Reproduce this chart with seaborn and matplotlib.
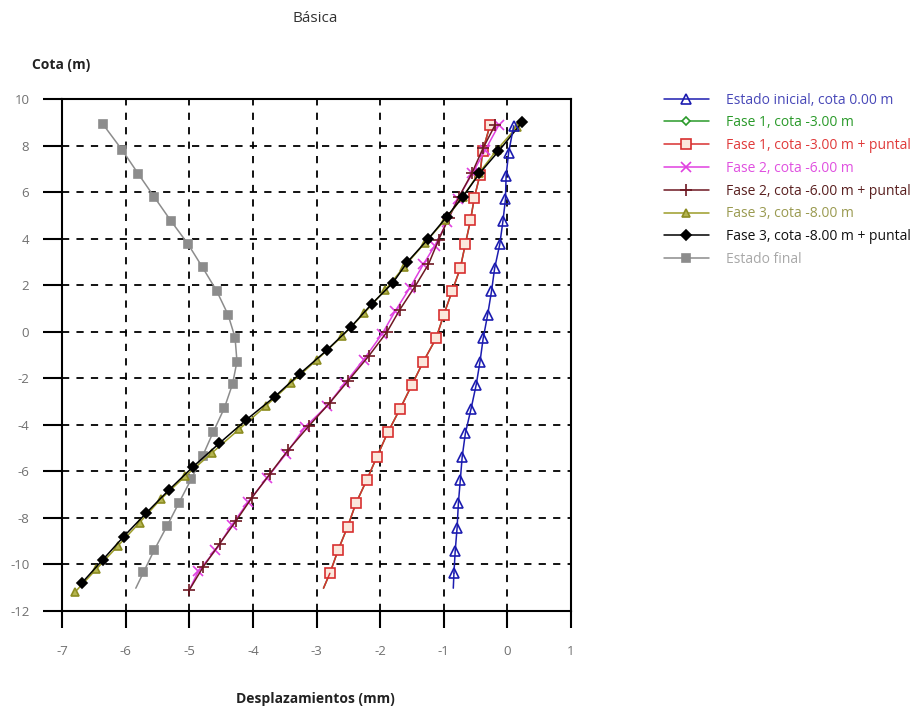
import matplotlib
matplotlib.use("Agg")
import matplotlib.pyplot as plt
import seaborn as sns
import pandas as pd

# ---------------- data ----------------
labels = ["Estado inicial, cota 0.00 m", "Fase 1, cota -3.00 m",
          "Fase 1, cota -3.00 m + puntal", "Fase 2, cota -6.00 m",
          "Fase 2, cota -6.00 m + puntal", "Fase 3, cota -8.00 m",
          "Fase 3, cota -8.00 m + puntal", "Estado final"]

y_ini = [8.85, 7.7, 6.7, 5.7, 4.75, 3.75, 2.73, 1.73, 0.73, -0.28, -1.28, -2.28,
         -3.3, -4.36, -5.37, -6.37, -7.37, -8.42, -9.42, -10.38, -11.02]
x_ini = [0.10, 0.02, -0.02, -0.03, -0.07, -0.12, -0.20, -0.25, -0.31, -0.38, -0.43,
         -0.49, -0.57, -0.66, -0.71, -0.74, -0.77, -0.79, -0.82, -0.84, -0.85]

y_f1 = [8.9, 7.75, 6.75, 5.75, 4.78, 3.78, 2.73, 1.73, 0.73, -0.28, -1.28, -2.28,
        -3.33, -4.33, -5.37, -6.37, -7.37, -8.37, -9.38, -10.38, -11.02]
x_f1 = [-0.27, -0.39, -0.43, -0.52, -0.58, -0.66, -0.74, -0.87, -1.00, -1.12, -1.32,
        -1.50, -1.69, -1.88, -2.05, -2.21, -2.38, -2.51, -2.66, -2.79, -2.89]

y_f1p = [8.9, 7.75, 6.75, 5.75, 4.78, 3.78, 2.73, 1.73, 0.73, -0.28, -1.28, -2.28,
         -3.33, -4.33, -5.37, -6.37, -7.37, -8.37, -9.38, -10.38, -11.02]
x_f1p = [-0.27, -0.39, -0.43, -0.52, -0.58, -0.66, -0.74, -0.87, -1.00, -1.12, -1.32,
         -1.50, -1.69, -1.88, -2.05, -2.21, -2.38, -2.51, -2.66, -2.79, -2.89]

y_f2 = [8.9, 7.8, 6.8, 5.7, 4.7, 3.7, 2.9, 1.9, 0.9, -0.1, -1.2, -2.2, -3.2, -4.1,
        -5.25, -6.3, -7.3, -8.3, -9.4, -10.3, -11.1]
x_f2 = [-0.13, -0.35, -0.55, -0.78, -0.95, -1.14, -1.32, -1.53, -1.76, -1.97, -2.26,
        -2.55, -2.84, -3.18, -3.48, -3.78, -4.07, -4.33, -4.59, -4.86, -5.00]

y_f2p = [8.9, 7.9, 6.8, 5.8, 4.9, 3.95, 2.9, 1.95, 0.95, 0.0, -1.05, -2.1, -3.05,
         -4.05, -5.1, -6.1, -7.15, -8.15, -9.1, -10.1, -11.1]
x_f2p = [-0.19, -0.38, -0.56, -0.76, -0.92, -1.08, -1.24, -1.45, -1.69, -1.89, -2.18,
         -2.50, -2.79, -3.12, -3.45, -3.73, -4.02, -4.27, -4.52, -4.78, -5.00]

y_f3 = [8.8, 7.8, 6.8, 5.8, 4.8, 3.8, 2.8, 1.8, 0.8, -0.2, -1.2, -2.2, -3.2, -4.2,
        -5.2, -6.2, -7.2, -8.2, -9.2, -10.2, -11.2]
x_f3 = [0.15, -0.17, -0.45, -0.70, -0.98, -1.30, -1.62, -1.92, -2.25, -2.60, -2.99,
        -3.40, -3.80, -4.22, -4.64, -5.06, -5.45, -5.78, -6.12, -6.46, -6.80]

y_f3p = [9.0, 7.75, 6.8, 5.8, 4.95, 4.0, 3.0, 2.1, 1.2, 0.2, -0.8, -1.8, -2.8, -3.8,
         -4.8, -5.8, -6.8, -7.8, -8.8, -9.8, -10.8]
x_f3p = [0.23, -0.14, -0.44, -0.70, -0.95, -1.24, -1.57, -1.80, -2.13, -2.46, -2.84,
         -3.26, -3.66, -4.11, -4.53, -4.94, -5.32, -5.68, -6.03, -6.36, -6.69]

y_fin = [8.93, 7.79, 6.78, 5.79, 4.77, 3.77, 2.76, 1.76, 0.73, -0.25, -1.28, -2.25,
         -3.29, -4.29, -5.34, -6.34, -7.34, -8.35, -9.38, -10.34, -11.02]
x_fin = [-6.36, -6.05, -5.80, -5.55, -5.29, -5.02, -4.79, -4.57, -4.39, -4.28, -4.25,
         -4.32, -4.45, -4.62, -4.79, -4.97, -5.16, -5.35, -5.55, -5.72, -5.84]

x_ticks = [-7, -6, -5, -4, -3, -2, -1, 0, 1]
y_ticks = [-12, -10, -8, -6, -4, -2, 0, 2, 4, 6, 8, 10]

# ---------------- style ----------------
sns.set_theme(style="white")
plt.rcParams["font.family"] = ["Open Sans", "DejaVu Sans"]
plt.rcParams["axes.unicode_minus"] = False

fig = plt.figure(figsize=(9.2, 7.1), dpi=100)
ax = fig.add_axes([62 / 920, 1 - 611 / 710, (571 - 62) / 920, (611 - 99) / 710])

# name, x, y, line colour, marker, msize, mfc, mec, marker on last point, text colour, zorder
series = [
    (labels[7], x_fin, y_fin, "#8c8c8c", "s", 6, "#8c8c8c", "#8c8c8c", False, "#a8a8a8", 3),
    (labels[1], x_f1, y_f1, "#2a9a2a", "D", 4.5, "white", "#2a9a2a", False, "#2a9a2a", 3),
    (labels[2], x_f1p, y_f1p, "#d83030", "s", 7, "#fbe7dc", "#d83030", False, "#e03a3a", 4),
    (labels[3], x_f2, y_f2, "#e040e0", "x", 6.5, "#e040e0", "#e040e0", False, "#e050e0", 4),
    (labels[4], x_f2p, y_f2p, "#6e1822", "+", 8.5, "#6e1822", "#6e1822", True, "#5a2020", 5),
    (labels[5], x_f3, y_f3, "#9c9c28", "^", 5.5, "#b4b450", "#8c8c20", True, "#9a9a50", 5),
    (labels[6], x_f3p, y_f3p, "#000000", "D", 5.5, "#000000", "#000000", True, "#111111", 6),
    (labels[0], x_ini, y_ini, "#1c1cb0", "^", 6.5, "none", "#1c1cb0", False, "#4848b8", 7),
]

text_colors = {}
for name, xs, ys, col, mk, ms, mfc, mec, last, tcol, z in series:
    df = pd.DataFrame({"x": xs, "y": ys})
    marked = df if last else df.iloc[:-1]
    sns.lineplot(data=marked, x="x", y="y", sort=False, estimator=None, ax=ax,
                 color=col, lw=1.1, marker=mk, markersize=ms, markerfacecolor=mfc,
                 markeredgecolor=mec, markeredgewidth=1.2, label=name, zorder=z)
    if not last:
        sns.lineplot(data=df.iloc[-2:], x="x", y="y", sort=False, estimator=None,
                     ax=ax, color=col, lw=1.1, zorder=z)
    text_colors[name] = tcol

ax.set_xlim(-7, 1)
ax.set_ylim(-12, 10)
ax.set_xticks(x_ticks)
ax.set_yticks(y_ticks)
ax.set_xticklabels([str(t) for t in x_ticks])
ax.set_yticklabels([str(t) for t in y_ticks])
ax.set_xlabel("")
ax.set_ylabel("")
ax.grid(True, color="black", linestyle=(0, (4, 4)), linewidth=1.3)
ax.set_axisbelow(True)
for s in ax.spines.values():
    s.set_color("black")
    s.set_linewidth(1.5)
ax.tick_params(axis="x", direction="out", length=12.5, width=1.5, pad=12,
               labelsize=9.5, labelcolor="#707070", color="black", bottom=True)
ax.tick_params(axis="y", direction="out", length=13.5, width=1.5, pad=10,
               labelsize=9.5, labelcolor="#707070", color="black", left=True)

# legend
handles, labs = ax.get_legend_handles_labels()
order = [labs.index(l) for l in labels]
if ax.get_legend() is not None:
    ax.get_legend().remove()
leg = fig.legend([handles[i] for i in order], [labs[i] for i in order],
                 loc="upper left", bbox_to_anchor=(658 / 920, 1 - 87 / 710),
                 frameon=False, fontsize=10, handlelength=3.3, handletextpad=1.2,
                 labelspacing=0.56, borderaxespad=0)
for t in leg.get_texts():
    t.set_color(text_colors[t.get_text()])

fig.text(315 / 920, 1 - 18 / 710, "Básica", ha="center", va="center",
         fontsize=11, color="#333333")
fig.text(61 / 920, 1 - 65 / 710, "Cota (m)", ha="center", va="center",
         fontsize=10, fontweight="bold", color="#222222")
fig.text(315 / 920, 1 - 699 / 710, "Desplazamientos (mm)", ha="center", va="center",
         fontsize=10, fontweight="bold", color="#222222")

fig.savefig("out.png", dpi=100)
